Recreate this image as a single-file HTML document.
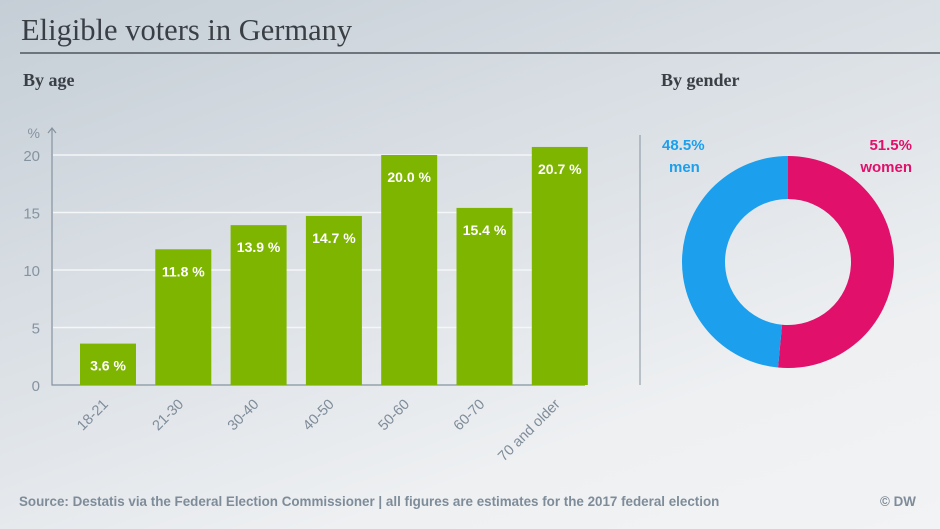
<!DOCTYPE html>
<html><head><meta charset="utf-8"><style>
body{margin:0}
#c{position:relative;width:940px;height:529px;overflow:hidden;background:linear-gradient(160deg,#c5ced6 0%,#dde2e7 45%,#eef0f2 75%,#f2f3f4 100%);font-family:"Liberation Sans",sans-serif}
.t{position:absolute;font-family:"Liberation Serif",serif;color:#3a3f45}
</style></head><body>
<div id="c">
<div class="t" style="left:21px;top:13px;font-size:30.5px">Eligible voters in Germany</div>
<div style="position:absolute;left:20px;top:52px;width:920px;height:2px;background:#6e747b"></div>
<div class="t" style="left:23px;top:70px;font-size:18px;font-weight:bold">By age</div>
<div class="t" style="left:661px;top:70px;font-size:18px;font-weight:bold">By gender</div>
<svg id="s" width="940" height="529" style="position:absolute;left:0;top:0"></svg>
<div style="position:absolute;left:19px;top:494px;font-size:13.4px;font-weight:bold;color:#7e8c99">Source: Destatis via the Federal Election Commissioner | all figures are estimates for the 2017 federal election</div>
<div style="position:absolute;left:880px;top:494px;font-size:13.4px;font-weight:bold;color:#7e8c99">© DW</div>
</div>
<script>
const categories=["18-21","21-30","30-40","40-50","50-60","60-70","70 and older"];
const values=[3.6,11.8,13.9,14.7,20.0,15.4,20.7];
const yTicks=[0,5,10,15,20];
const genderLabels=["women","men"];
const genderValues=[51.5,48.5];
const NS="http://www.w3.org/2000/svg";
const s=document.getElementById('s');
function mk(t,a,txt){const e=document.createElementNS(NS,t);for(const k in a)e.setAttribute(k,a[k]);if(txt!=null)e.textContent=txt;s.appendChild(e);return e;}
const y=v=>385-v*11.5;
const x=i=>80+i*75.3;
const bw=56;
yTicks.forEach(v=>{
 if(v>0){const g=mk('line',{x1:53,x2:585,y1:y(v),y2:y(v),stroke:'#f4f6f8','stroke-width':1.5});
 
 }
 const t=mk('text',{x:40,y:y(v)+6,'text-anchor':'end','font-size':15,fill:'#8593a0'},String(v));
 
 
});
const u=mk('text',{x:40,y:138,'text-anchor':'end','font-size':14,fill:'#8593a0'},'%');


const ax=mk('path',{d:'M52,128 V385 H585 M48,133 L52,128 L56,133',stroke:'#8593a0','stroke-width':1.2,fill:'none'});


values.forEach((v,i)=>{
 const r=mk('rect',{x:x(i),y:y(v),width:bw,height:385-y(v),fill:'#7db500'});
 
 
 const l=mk('text',{x:x(i)+bw/2,y:y(v)+27,'text-anchor':'middle','font-size':14,'font-weight':'bold',fill:'#fff'},v.toFixed(1)+' %');
 
 
 const cx=x(i)+bw/2+1,cy=405;
 const c=mk('text',{x:cx,y:cy,'text-anchor':'end','font-size':14.5,fill:'#7e8c99',transform:`rotate(-45 ${cx} ${cy})`},categories[i]);
 
 
});
const dv=mk('line',{x1:640,x2:640,y1:135,y2:385,stroke:'#8593a0','stroke-width':1});


const CX=788,CY=262,R=106,RI=63;
const cols=['#e0106b','#1c9fec'];
let a0=0;const tot=genderValues.reduce((a,b)=>a+b,0);
function pt(a,r){return [CX+r*Math.sin(a),CY-r*Math.cos(a)];}
genderValues.forEach((v,i)=>{
 const a1=a0+v/tot*2*Math.PI,lg=(a1-a0)>Math.PI?1:0;
 const [x1,y1]=pt(a0,R),[x2,y2]=pt(a1,R),[x3,y3]=pt(a1,RI),[x4,y4]=pt(a0,RI);
 const p=mk('path',{d:`M${x1},${y1} A${R},${R} 0 ${lg} 1 ${x2},${y2} L${x3},${y3} A${RI},${RI} 0 ${lg} 0 ${x4},${y4} Z`,fill:cols[i]});
 
 
 a0=a1;
});
const lw=mk('text',{x:912,y:150,'text-anchor':'end','font-size':15,'font-weight':'bold',fill:cols[0]},genderValues[0].toFixed(1)+'%');


const lw2=mk('text',{x:912,y:172,'text-anchor':'end','font-size':15,'font-weight':'bold',fill:cols[0]},genderLabels[0]);


const lm=mk('text',{x:662,y:150,'font-size':15,'font-weight':'bold',fill:cols[1]},genderValues[1].toFixed(1)+'%');


const lm2=mk('text',{x:669,y:172,'font-size':15,'font-weight':'bold',fill:cols[1]},genderLabels[1]);


</script>
</body></html>
